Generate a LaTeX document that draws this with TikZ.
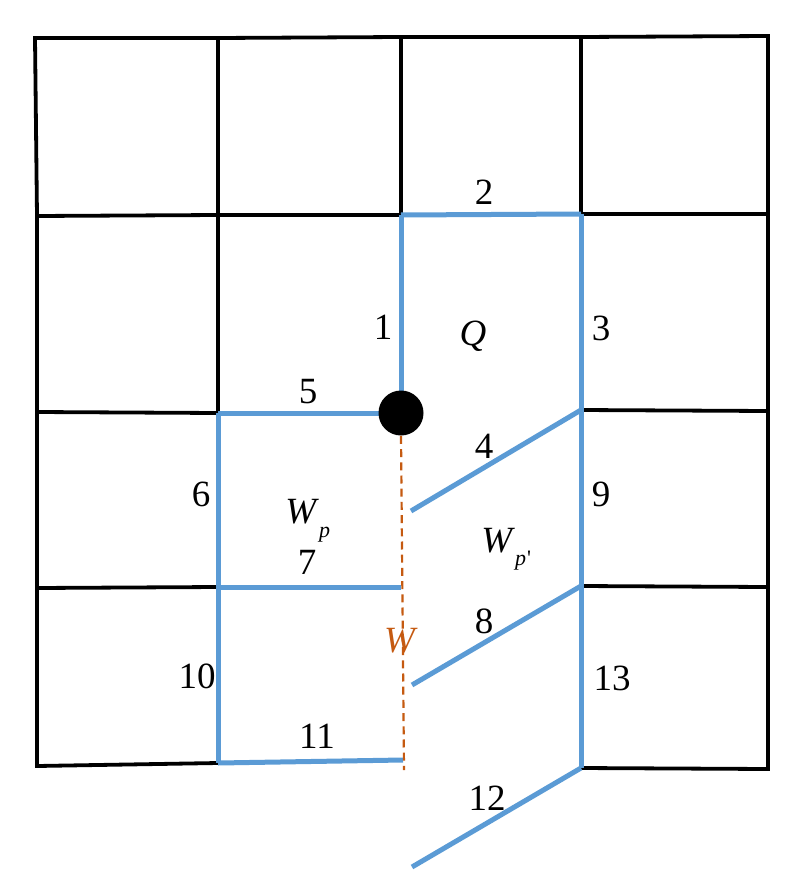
\documentclass[tikz,border=0pt]{standalone}
\usepackage{fontspec}
\setmainfont{Liberation Serif}
\definecolor{eblue}{HTML}{5B9BD5}
\definecolor{eorange}{HTML}{C55A11}
\tikzset{
  gridline/.style={line width=1.9pt, black, line cap=rect},
  edge/.style={line width=2.5pt, eblue},
  wline/.style={line width=1.1pt, eorange, dash pattern=on 4pt off 2.6pt},
  lbl/.style={font=\fontsize{18.5}{20}\selectfont, inner sep=0pt},
  sublbl/.style={font=\fontsize{18.5}{20}\selectfont, inner sep=0pt, anchor=base west},
  vertex/.style={circle, fill=black, inner sep=0pt, minimum size=22.5pt},
}
\begin{document}
\begin{tikzpicture}[x=0.5pt,y=-0.5pt]
\useasboundingbox (0,0) rectangle (800,888);
% grid points
\coordinate (a0) at (35,38);  \coordinate (a1) at (218,38);  \coordinate (a2) at (401,37);  \coordinate (a3) at (581,37);  \coordinate (a4) at (768,36);
\coordinate (b0) at (37,216); \coordinate (b1) at (218,215); \coordinate (b2) at (401,215); \coordinate (b3) at (581,214); \coordinate (b4) at (768,214);
\coordinate (c0) at (37,412); \coordinate (c1) at (218,413); \coordinate (c2) at (401,413); \coordinate (c3) at (581,410); \coordinate (c4) at (768,411);
\coordinate (d0) at (37,588); \coordinate (d1) at (218,587); \coordinate (d2) at (401,587); \coordinate (d3) at (581,586); \coordinate (d4) at (768,587);
\coordinate (e0) at (37,766); \coordinate (e1) at (218,763); \coordinate (e2) at (403,760); \coordinate (e3) at (581,768); \coordinate (e4) at (768,769);
\coordinate (p4) at (411,511); \coordinate (p8) at (412,685); \coordinate (p12) at (412,867);
\coordinate (wend) at (404,770);
% black grid
\draw[gridline] (a0) -- (a1) -- (a2) -- (a3) -- (a4);
\draw[gridline] (a0) -- (b0) -- (c0) -- (d0) -- (e0);
\draw[gridline] (a4) -- (b4) -- (c4) -- (d4) -- (e4);
\draw[gridline] (a1) -- (b1) -- (c1);
\draw[gridline] (a2) -- (b2);
\draw[gridline] (a3) -- (b3);
\draw[gridline] (b0) -- (b1) -- (b2);
\draw[gridline] (b3) -- (b4);
\draw[gridline] (c0) -- (c1);
\draw[gridline] (c3) -- (c4);
\draw[gridline] (d0) -- (d1);
\draw[gridline] (d3) -- (d4);
\draw[gridline] (e0) -- (e1);
\draw[gridline] (e3) -- (e4);
% blue edges
\draw[edge] (b2) -- (c2);
\draw[edge] (b2) -- (b3);
\draw[edge] (b3) -- (c3);
\draw[edge] (p4) -- (c3);
\draw[edge] (c1) -- (c2);
\draw[edge] (c1) -- (d1);
\draw[edge] (d1) -- (d2);
\draw[edge] (p8) -- (d3);
\draw[edge] (c3) -- (d3);
\draw[edge] (d1) -- (e1);
\draw[edge] (e1) -- (e2);
\draw[edge] (p12) -- (e3);
\draw[edge] (d3) -- (e3);
% vertex and dashed line
\node[vertex] (dot) at (c2) {};
\draw[wline] (dot.south) -- (wend);
% labels
\node[lbl] (l1) at (383,327) {1};
\node[lbl] (l2) at (484,192) {2};
\node[lbl] (l3) at (601,328) {3};
\node[lbl] (l4) at (484,446) {4};
\node[lbl] (l5) at (308,392) {5};
\node[lbl] (l6) at (201,494) {6};
\node[lbl] (l7) at (307,562) {7};
\node[lbl] (l8) at (484,621) {8};
\node[lbl] (l9) at (601,494) {9};
\node[lbl] (l10) at (197,676) {10};
\node[lbl] (l11) at (317,736) {11};
\node[lbl] (l12) at (487,798) {12};
\node[lbl] (l13) at (612,678) {13};
\node[lbl] (lQ) at (473,336) {\textit{Q}};
\node[lbl, text=eorange] (lW) at (401,641) {\textit{W}};
\node[sublbl] (lWp) at (285,523) {\textit{W}\raisebox{-7pt}{\fontsize{11}{12}\selectfont\textit{p}}};
\node[sublbl] (lWpp) at (481,552) {\textit{W}\raisebox{-6.5pt}{\fontsize{11}{12}\selectfont\textit{p}\kern0.5pt\textquotesingle}};
\end{tikzpicture}
\end{document}
